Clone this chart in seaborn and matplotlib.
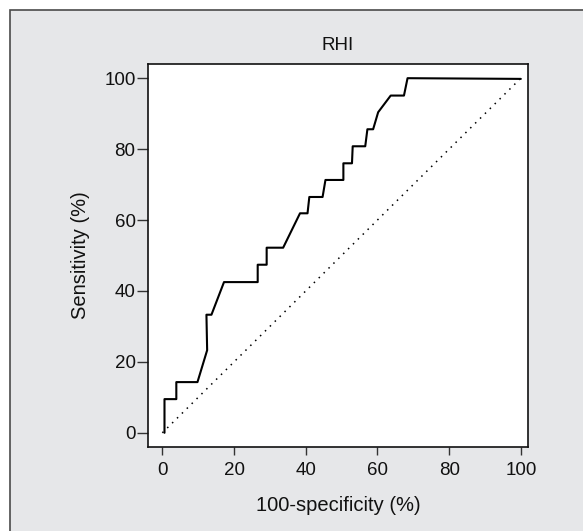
import matplotlib
matplotlib.use("Agg")
import matplotlib.pyplot as plt
import seaborn as sns
import pandas as pd
from matplotlib.patches import Rectangle

# ROC curve data
fpr = [0.6, 0.6, 3.9, 3.9, 9.8, 12.5, 12.3, 13.7, 17.2, 26.6, 26.6, 29.1, 29.1,
       33.7, 38.4, 40.5, 41.0, 44.7, 45.5, 50.5, 50.5, 52.9, 53.1, 56.6, 57.2,
       58.8, 60.2, 63.7, 67.4, 68.4, 100.0]
tpr = [0.0, 9.5, 9.5, 14.3, 14.3, 23.3, 33.3, 33.3, 42.5, 42.5, 47.4, 47.4, 52.2,
       52.2, 61.9, 61.9, 66.5, 66.5, 71.3, 71.3, 76.0, 76.0, 80.8, 80.8, 85.6,
       85.6, 90.4, 95.1, 95.1, 100.0, 99.8]
diag_x = [0, 100]
diag_y = [0, 100]
ticks = [0, 20, 40, 60, 80, 100]
title = "RHI"
xlabel = "100-specificity (%)"
ylabel = "Sensitivity (%)"

sns.set_theme(style="ticks")
plt.rcParams['font.family'] = ['Liberation Sans', 'DejaVu Sans']

fig = plt.figure(figsize=(5.83, 5.31), dpi=100)
fig.patch.set_facecolor("white")
bg = Rectangle((10 / 583, -0.1), 1.2, 1 - 10 / 531 + 0.1, transform=fig.transFigure,
               facecolor="#e6e7e9", edgecolor="#4a4a4a", linewidth=1.2, zorder=-10)
fig.patches.append(bg)

ax = fig.add_axes([148 / 583, 1 - 447 / 531, (528 - 148) / 583, (447 - 64) / 531])
ax.set_facecolor("white")

df = pd.DataFrame({"fpr": fpr, "tpr": tpr})
dd = pd.DataFrame({"x": diag_x, "y": diag_y})
sns.lineplot(data=dd, x="x", y="y", ax=ax, color="black", linestyle=(0, (1, 3.5)),
             linewidth=1.1, estimator=None, sort=False)
sns.lineplot(data=df, x="fpr", y="tpr", ax=ax, color="black", linewidth=1.5,
             estimator=None, sort=False)

ax.set_xlim(-4, 102)
ax.set_ylim(-4, 104)
ax.set_xticks(ticks)
ax.set_yticks(ticks)
ax.tick_params(axis="x", length=6, width=1, color="#333333", pad=5, labelsize=13.5, labelcolor="#111111")
ax.tick_params(axis="y", length=8, width=1, color="#333333", pad=1, labelsize=13.5, labelcolor="#111111")
for s in ax.spines.values():
    s.set_visible(True)
    s.set_color("#111111")
    s.set_linewidth(1.2)

ax.set_title(title, fontsize=13.5, pad=10, color="#111111")
ax.set_xlabel(xlabel, fontsize=14.5, labelpad=12, color="#111111")
ax.set_ylabel(ylabel, fontsize=14.5, labelpad=10, color="#111111")

fig.savefig("out.png", dpi=100, facecolor=fig.get_facecolor())
